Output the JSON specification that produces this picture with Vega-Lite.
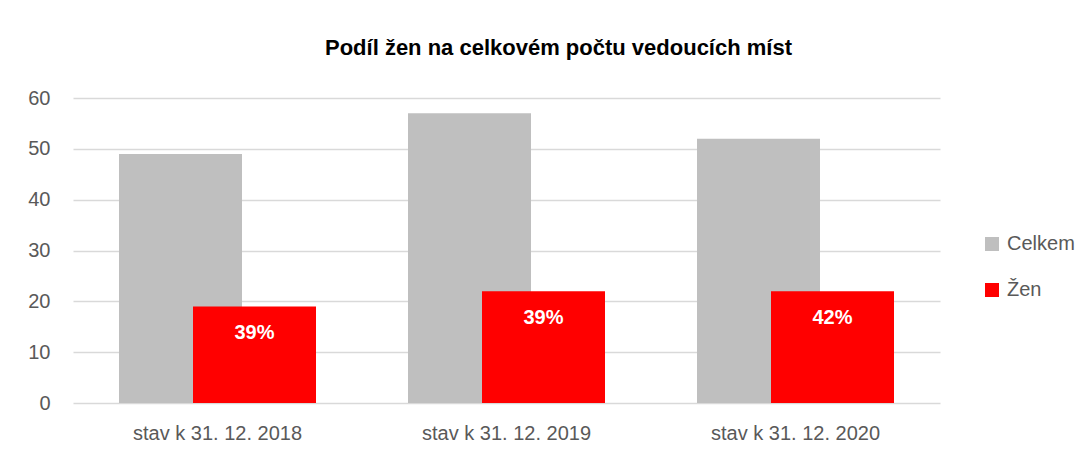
{
  "$schema": "https://vega.github.io/schema/vega-lite/v6.json",
  "autosize": {"type": "none"},
  "width": 867,
  "height": 305,
  "padding": {"left": 73, "top": 98, "right": 146, "bottom": 54},
  "background": "white",
  "title": {
    "text": "Podíl žen na celkovém počtu vedoucích míst",
    "anchor": "middle",
    "dx": 52,
    "offset": 28,
    "font": "Liberation Sans",
    "fontSize": 22,
    "fontWeight": "bold",
    "color": "#000000"
  },
  "data": {
    "values": [
      {"stav": "stav k 31. 12. 2018", "serie": "Celkem", "pocet": 49, "podil": ""},
      {"stav": "stav k 31. 12. 2019", "serie": "Celkem", "pocet": 57, "podil": ""},
      {"stav": "stav k 31. 12. 2020", "serie": "Celkem", "pocet": 52, "podil": ""},
      {"stav": "stav k 31. 12. 2018", "serie": "Žen", "pocet": 19, "podil": "39%"},
      {"stav": "stav k 31. 12. 2019", "serie": "Žen", "pocet": 22, "podil": "39%"},
      {"stav": "stav k 31. 12. 2020", "serie": "Žen", "pocet": 22, "podil": "42%"}
    ]
  },
  "encoding": {
    "x": {
      "field": "stav",
      "type": "nominal",
      "sort": null,
      "scale": {"paddingInner": 0, "paddingOuter": 0},
      "axis": {
        "title": null,
        "labelAngle": 0,
        "ticks": false,
        "domain": false,
        "labelPadding": 20,
        "labelFont": "Liberation Sans",
        "labelFontSize": 20,
        "labelColor": "#595959"
      }
    },
    "y": {
      "field": "pocet",
      "type": "quantitative",
      "scale": {"domain": [0, 60], "nice": false},
      "axis": {
        "title": null,
        "values": [0, 10, 20, 30, 40, 50, 60],
        "ticks": false,
        "domain": false,
        "labelPadding": 23,
        "labelFont": "Liberation Sans",
        "labelFontSize": 20,
        "labelColor": "#595959",
        "gridColor": "#D9D9D9",
        "gridWidth": 1.5
      }
    }
  },
  "layer": [
    {
      "transform": [{"filter": "datum.serie === 'Celkem'"}],
      "mark": {"type": "bar", "width": 123, "xOffset": -37},
      "encoding": {
        "color": {
          "field": "serie",
          "type": "nominal",
          "scale": {"domain": ["Celkem", "Žen"], "range": ["#BFBFBF", "#FF0000"]},
          "legend": {
            "title": null,
            "orient": "none",
            "legendX": 909,
            "legendY": 136,
            "symbolType": "square",
            "symbolSize": 196,
            "symbolStrokeWidth": 0,
            "rowPadding": 26,
            "labelFont": "Liberation Sans",
            "labelFontSize": 20,
            "labelColor": "#595959",
            "labelOffset": 5
          }
        }
      }
    },
    {
      "transform": [{"filter": "datum.serie === 'Žen'"}],
      "mark": {"type": "bar", "width": 123, "xOffset": 37},
      "encoding": {
        "color": {"field": "serie", "type": "nominal"}
      }
    },
    {
      "transform": [{"filter": "datum.serie === 'Žen'"}],
      "mark": {
        "type": "text",
        "xOffset": 37,
        "dy": 27,
        "baseline": "middle",
        "align": "center",
        "font": "Liberation Sans",
        "fontSize": 20,
        "fontWeight": "bold",
        "color": "white"
      },
      "encoding": {
        "text": {"field": "podil"}
      }
    }
  ],
  "config": {
    "view": {"stroke": null}
  }
}
